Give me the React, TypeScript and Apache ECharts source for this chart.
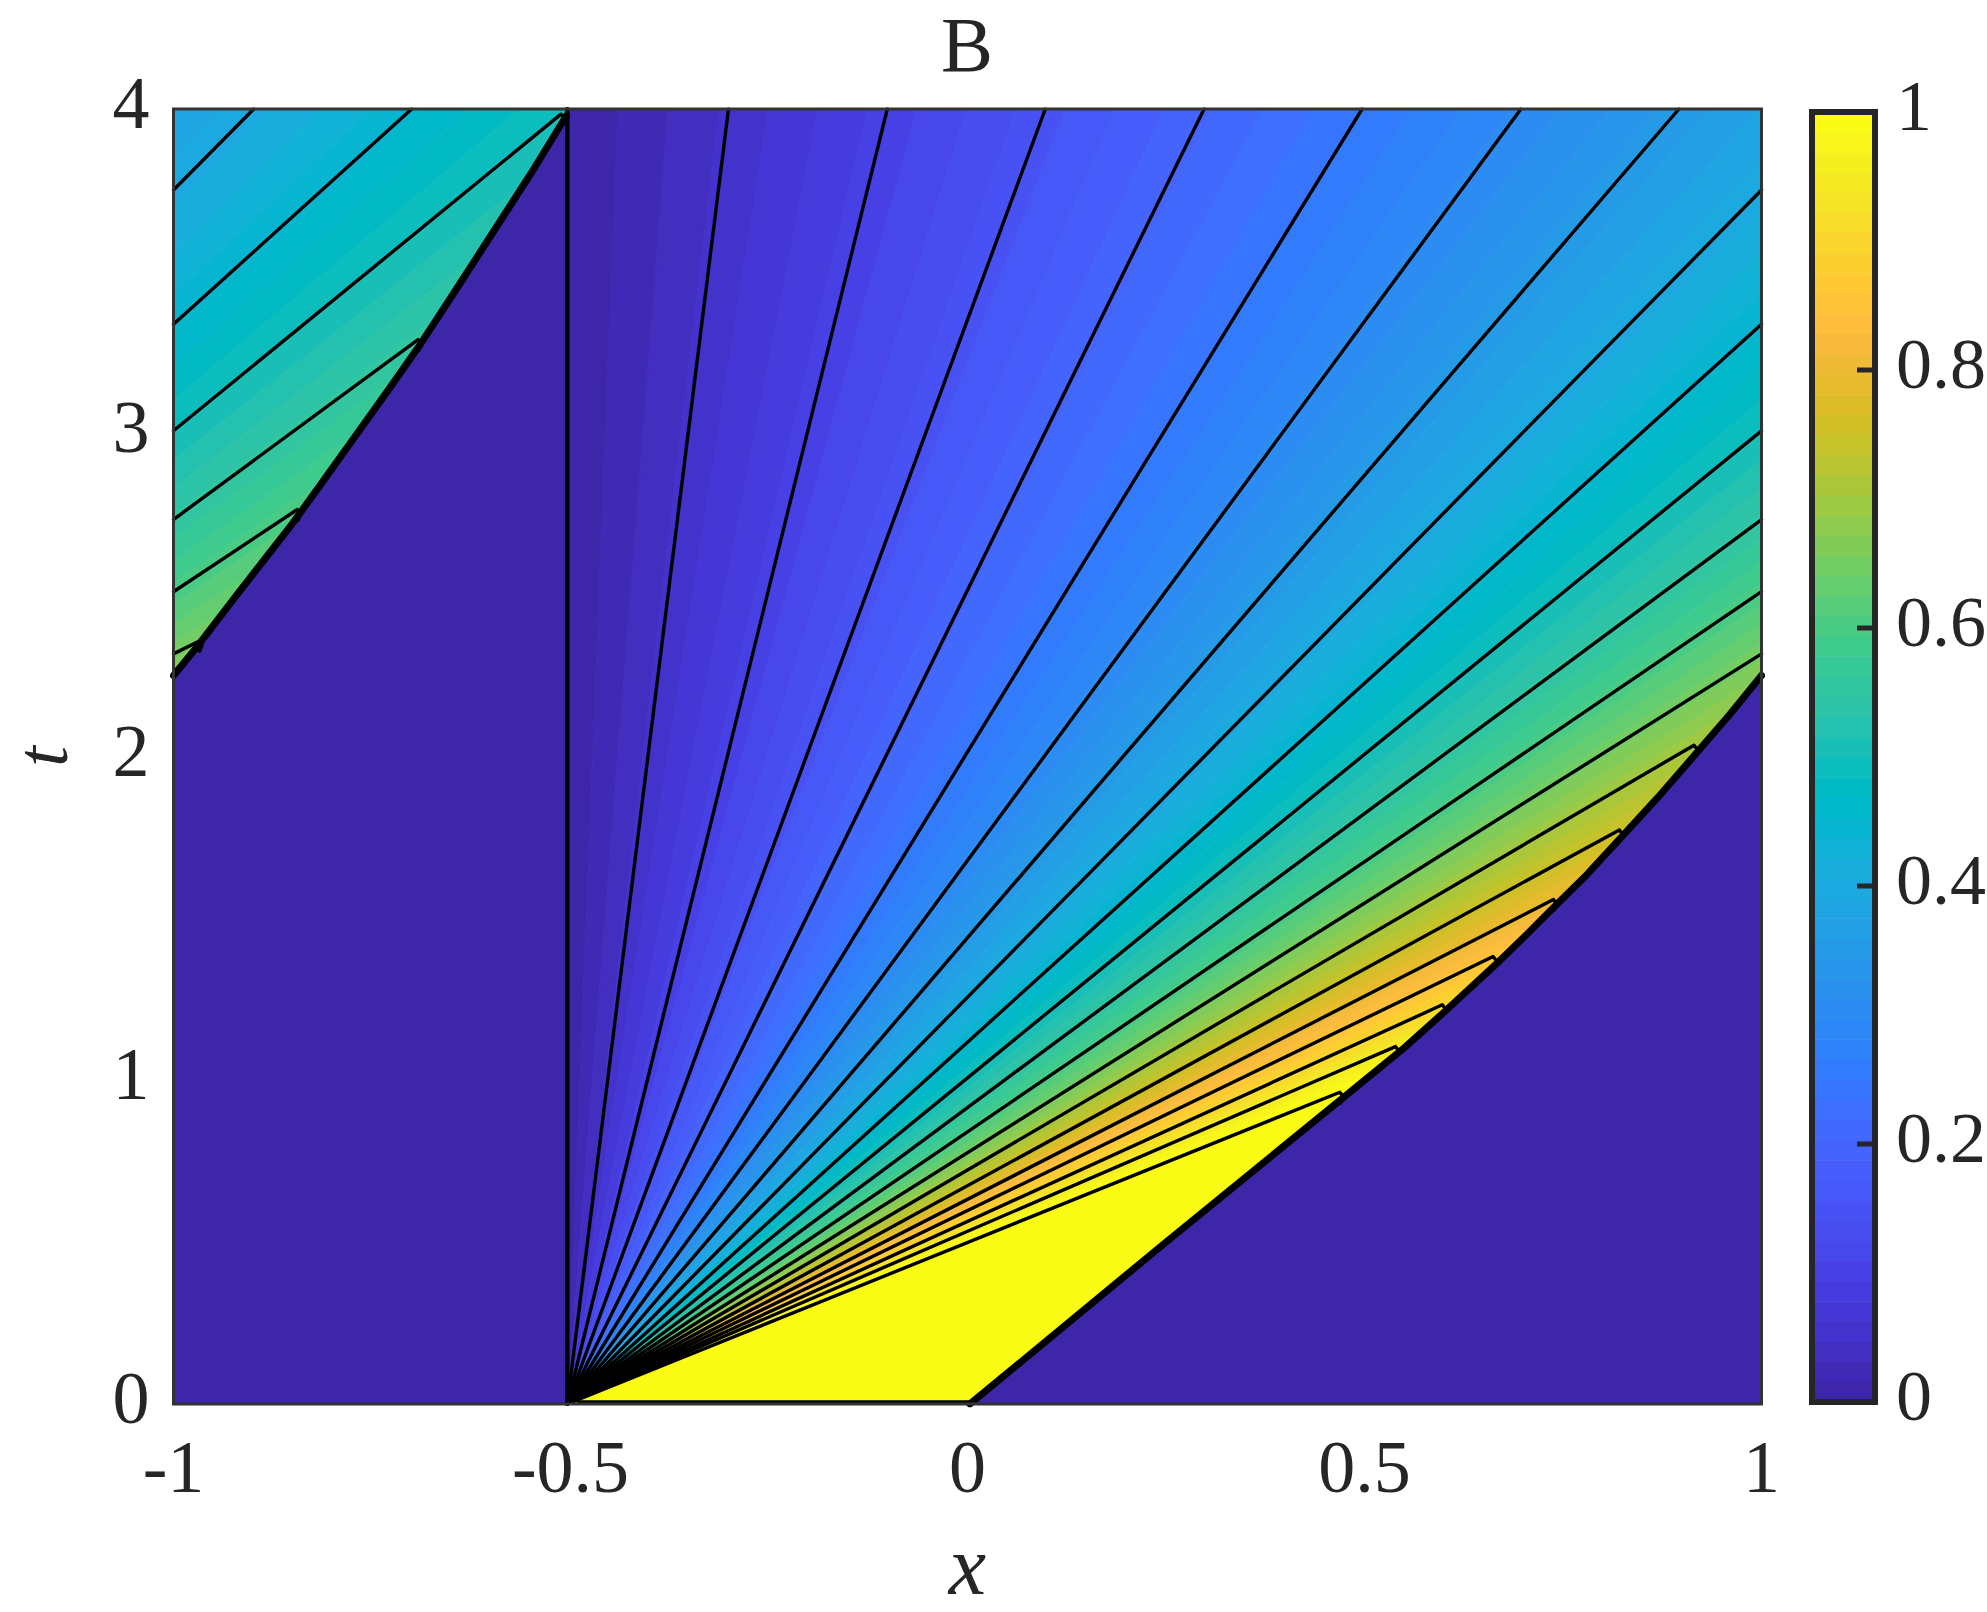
import React, { useEffect, useRef } from "react";
import * as echarts from "echarts";

const xTicks = [-1, -0.5, 0, 0.5, 1];
const tTicks = [0, 1, 2, 3, 4];
const barTicks = [0, 0.2, 0.4, 0.6, 0.8, 1];

const parula64 = [
  "#3e26a8","#4029b4","#422ebf","#4332cb","#4537d5","#463cde","#4741e5","#4747eb",
  "#484df0","#4852f4","#4758f8","#465dfb","#4563fd","#4269fe","#3e6fff","#3875fe",
  "#327bfc","#2f81fa","#2d87f7","#2d8cf3","#2b91ef","#2796eb","#259be8","#23a0e5",
  "#20a5e3","#1ca9df","#18addb","#12b1d6","#08b5d0","#01b8ca","#02bac3","#0bbdbc",
  "#19bfb6","#24c1ae","#2cc3a7","#31c69f","#37c897","#3fca8e","#4acb84","#57cc7a",
  "#64cd6f","#72cd64","#81cc59","#8fcb4e","#9dc943","#abc739","#b9c431","#c5c22a",
  "#d1bf27","#dcbd29","#e6bb2d","#efba36","#f8ba3d","#febe3c","#fec338","#fec934",
  "#fccf30","#f9d52d","#f7dc2a","#f5e327","#f5e924","#f6ef20","#f7f51b","#f9fb15",
];

const contourLevels = [
  0, 0.05, 0.1, 0.15, 0.2, 0.25, 0.3, 0.35, 0.4, 0.45, 0.5,
  0.55, 0.6, 0.65, 0.7, 0.75, 0.8, 0.85, 0.9, 0.95, 1,
];

// Contours seen on the right of the fan: [origin, end on the frame or tip, hook back to the front]
const fanContours: number[][][] = [
  [[-0.504, 0], [-0.504, 4]],
  [[-0.504, 0], [-0.301, 4]],
  [[-0.504, 0], [-0.101, 4]],
  [[-0.504, 0], [0.098, 4]],
  [[-0.504, 0], [0.298, 4]],
  [[-0.504, 0], [0.497, 4]],
  [[-0.504, 0], [0.697, 4]],
  [[-0.504, 0], [0.896, 4]],
  [[-0.504, 0], [1, 3.75]],
  [[-0.504, 0], [1, 3.335]],
  [[-0.504, 0], [1, 3.006]],
  [[-0.504, 0], [1, 2.732]],
  [[-0.504, 0], [1, 2.509]],
  [[-0.504, 0], [1, 2.317]],
  [[-0.504, 0], [0.915, 2.035], [0.919, 2.022], [0.916, 2.0]],
  [[-0.504, 0], [0.821, 1.773], [0.825, 1.76], [0.822, 1.74]],
  [[-0.504, 0], [0.738, 1.558], [0.742, 1.545], [0.739, 1.525]],
  [[-0.504, 0], [0.662, 1.382], [0.666, 1.37], [0.663, 1.35]],
  [[-0.504, 0], [0.598, 1.233], [0.602, 1.22], [0.599, 1.2]],
  [[-0.504, 0], [0.539, 1.104], [0.543, 1.092], [0.54, 1.072]],
  [[-0.504, 0], [0.469, 0.963], [0.473, 0.95], [0.47, 0.93]],
];

// The same contours after they leave at x = 1 and re-enter at x = -1
const wrappedContours: number[][][] = [
  [[-1, 3.75], [-0.899, 4]],
  [[-1, 3.335], [-0.7, 4]],
  [[-1, 3.006], [-0.512, 3.984], [-0.508, 3.97], [-0.511, 3.95]],
  [[-1, 2.732], [-0.692, 3.288], [-0.688, 3.275], [-0.691, 3.255]],
  [[-1, 2.509], [-0.844, 2.763], [-0.84, 2.75], [-0.843, 2.73]],
  [[-1, 2.317], [-0.968, 2.356], [-0.964, 2.345], [-0.967, 2.325]],
];

const bottomEdgeContour = [[0.003, 0.006], [-0.49, 0.006]];

const rightFront = [
  [0.003, 0], [0.25, 0.5], [0.47, 0.94], [0.5, 1.0], [0.55, 1.1], [0.6, 1.21], [0.665, 1.357],
  [0.7, 1.44], [0.74, 1.538], [0.78, 1.635], [0.825, 1.755], [0.87, 1.875], [0.92, 2.016],
  [0.96, 2.13], [1, 2.25],
];
const leftFront = [
  [-1, 2.25], [-0.97, 2.34], [-0.92, 2.5], [-0.885, 2.61], [-0.85, 2.72], [-0.81, 2.856],
  [-0.77, 2.993], [-0.73, 3.13], [-0.69, 3.27], [-0.65, 3.42], [-0.6, 3.61], [-0.55, 3.8],
  [-0.505, 3.98],
];
const rightEmptyCorner = [[1, 0]];
const leftEmptyCorners = [[-0.504, 4], [-0.504, 0], [-1, 0]];

const INK = "#262626";
const FONT = "'Liberation Serif', serif";
const FONT_SIZE = 74;
const PLOT = { left: 173.5, top: 109, width: 1588, height: 1295 };
const BAR = { left: 1812, top: 112, width: 63, height: 1290 };

const origin = fanContours[0][0];
const slopes = fanContours.map((line) => (line[1][0] - origin[0]) / line[1][1]);

function slopeAt(value: number) {
  for (let k = 1; k < contourLevels.length; k++) {
    if (value <= contourLevels[k]) {
      const f = (value - contourLevels[k - 1]) / (contourLevels[k] - contourLevels[k - 1]);
      return slopes[k - 1] + f * (slopes[k] - slopes[k - 1]);
    }
  }
  return slopes[slopes.length - 1];
}

function fanSeries(shift: number, z: number) {
  const far = 4.3;
  return {
    type: "custom",
    coordinateSystem: "cartesian2d",
    xAxisIndex: 0,
    yAxisIndex: 0,
    clip: true,
    silent: true,
    z,
    encode: { x: 0, y: 1 },
    data: parula64.map((_, i) => [i, 0]),
    renderItem: (_: any, api: any) => {
      const i = api.value(0);
      const a = slopeAt(i / 64);
      const b = slopeAt((i + 1) / 64);
      const x0 = origin[0] + shift;
      return {
        type: "polygon",
        shape: {
          points: [
            api.coord([x0, 0]),
            api.coord([x0 + a * far, far]),
            api.coord([x0 + b * far, far]),
          ],
        },
        style: { fill: parula64[i], stroke: parula64[i], lineWidth: 0.8 },
      };
    },
  };
}

function regionSeries(points: number[][], fill: string, z: number) {
  return {
    type: "custom",
    coordinateSystem: "cartesian2d",
    xAxisIndex: 0,
    yAxisIndex: 0,
    clip: true,
    silent: true,
    z,
    encode: { x: 0, y: 1 },
    data: [points[0]],
    renderItem: (_: any, api: any) => ({
      type: "polygon",
      shape: { points: points.map((p) => api.coord(p)) },
      style: { fill, stroke: fill, lineWidth: 0.8 },
    }),
  };
}

function lineSeries(data: number[][], width: number, z: number) {
  return {
    type: "line",
    xAxisIndex: 0,
    yAxisIndex: 0,
    data,
    symbol: "none",
    silent: true,
    clip: true,
    z,
    lineStyle: { color: "#000", width, cap: "round", join: "round" },
  };
}

export default function App() {
  const ref = useRef<HTMLDivElement>(null);
  useEffect(() => {
    const chart = echarts.init(ref.current!, undefined, { renderer: "svg" });
    const fanTip = [origin[0] + slopes[20] * 4.3, 4.3];
    chart.setOption({
      animation: false,
      backgroundColor: "#fff",
      title: {
        text: "B",
        left: 967,
        top: 5,
        padding: 0,
        textAlign: "center",
        textStyle: { fontFamily: FONT, fontSize: 78, fontWeight: "normal", color: INK },
      },
      grid: [
        { left: PLOT.left, top: PLOT.top, width: PLOT.width, height: PLOT.height, outerBoundsMode: "none", containLabel: false },
        { left: BAR.left, top: BAR.top, width: BAR.width, height: BAR.height, outerBoundsMode: "none", containLabel: false },
      ],
      xAxis: [
        {
          type: "value",
          gridIndex: 0,
          min: -1,
          max: 1,
          interval: 0.5,
          name: "x",
          nameLocation: "middle",
          nameGap: 131,
          nameTextStyle: { fontFamily: FONT, fontStyle: "italic", fontSize: 84, lineHeight: 60, color: INK },
          axisLine: { show: false },
          axisTick: { show: false },
          splitLine: { show: false },
          axisLabel: {
            show: true,
            margin: 26,
            fontFamily: FONT,
            fontSize: FONT_SIZE,
            color: INK,
            formatter: (v: number) => (xTicks.includes(v) ? String(v) : ""),
          },
        },
        { type: "value", gridIndex: 1, min: 0, max: 1, show: false },
      ],
      yAxis: [
        {
          type: "value",
          gridIndex: 0,
          min: 0,
          max: 4,
          interval: 1,
          name: "t",
          nameLocation: "middle",
          nameGap: 102,
          nameRotate: 90,
          nameTextStyle: { fontFamily: FONT, fontStyle: "italic", fontSize: 74, lineHeight: 60, color: INK },
          axisLine: { show: false },
          axisTick: { show: false },
          splitLine: { show: false },
          axisLabel: {
            show: true,
            margin: 24,
            fontFamily: FONT,
            fontSize: FONT_SIZE,
            color: INK,
            verticalAlign: "bottom",
            lineHeight: 12,
            formatter: (v: number) => (tTicks.includes(v) ? String(v) : ""),
          },
        },
        {
          type: "value",
          gridIndex: 1,
          min: 0,
          max: 1,
          interval: 0.2,
          position: "right",
          axisLine: { show: false },
          splitLine: { show: false },
          axisTick: { show: false },
          axisLabel: {
            show: true,
            margin: 21,
            fontFamily: FONT,
            fontSize: 72,
            color: INK,
            verticalAlign: "bottom",
            lineHeight: 12,
            formatter: (v: number) => (barTicks.includes(v) ? String(v) : ""),
          },
        },
      ],
      series: [
        fanSeries(-2, 1),
        regionSeries([...leftEmptyCorners, ...leftFront], parula64[0], 2),
        regionSeries([origin, fanTip, rightEmptyCorner[0]], parula64[63], 2),
        fanSeries(0, 3),
        regionSeries([...rightFront, ...rightEmptyCorner], parula64[0], 4),
        ...fanContours.map((line, k) => lineSeries(line, k === 0 ? 4.4 : 3.4, 6)),
        ...wrappedContours.map((line) => lineSeries(line, 3.4, 6)),
        lineSeries(bottomEdgeContour, 3.4, 6),
        lineSeries(rightFront, 7, 7),
        lineSeries(leftFront, 7, 7),
        {
          type: "custom",
          coordinateSystem: "cartesian2d",
          xAxisIndex: 1,
          yAxisIndex: 1,
          silent: true,
          z: 2,
          encode: { x: 0, y: 1 },
          data: parula64.map((_, i) => [0, i]),
          renderItem: (_: any, api: any) => {
            const i = api.value(1);
            const a = api.coord([0, i / 64]);
            const b = api.coord([1, (i + 1) / 64]);
            return {
              type: "rect",
              shape: { x: a[0], y: b[1], width: b[0] - a[0], height: a[1] - b[1] + 0.6 },
              style: { fill: parula64[i] },
            };
          },
        },
        {
          type: "custom",
          coordinateSystem: "cartesian2d",
          xAxisIndex: 1,
          yAxisIndex: 1,
          silent: true,
          z: 3,
          encode: { x: 0, y: 1 },
          data: barTicks.slice(1, -1).map((v) => [1, v]),
          renderItem: (_: any, api: any) => {
            const p = api.coord([1, api.value(1)]);
            return {
              type: "line",
              shape: { x1: p[0] - 18, y1: p[1], x2: p[0], y2: p[1] },
              style: { stroke: INK, lineWidth: 5 },
            };
          },
        },
      ],
      graphic: [
        {
          type: "rect",
          z: 100,
          silent: true,
          shape: { x: PLOT.left, y: PLOT.top, width: PLOT.width, height: PLOT.height },
          style: { fill: "transparent", stroke: "#333", lineWidth: 3 },
        },
        {
          type: "rect",
          z: 100,
          silent: true,
          shape: { x: BAR.left, y: BAR.top, width: BAR.width, height: BAR.height },
          style: { fill: "transparent", stroke: INK, lineWidth: 6 },
        },
      ],
    });
    return () => chart.dispose();
  }, []);
  return (
    <div
      ref={ref}
      style={{ position: "absolute", left: 0, top: 0, width: 1987, height: 1612, overflow: "hidden" }}
    />
  );
}
